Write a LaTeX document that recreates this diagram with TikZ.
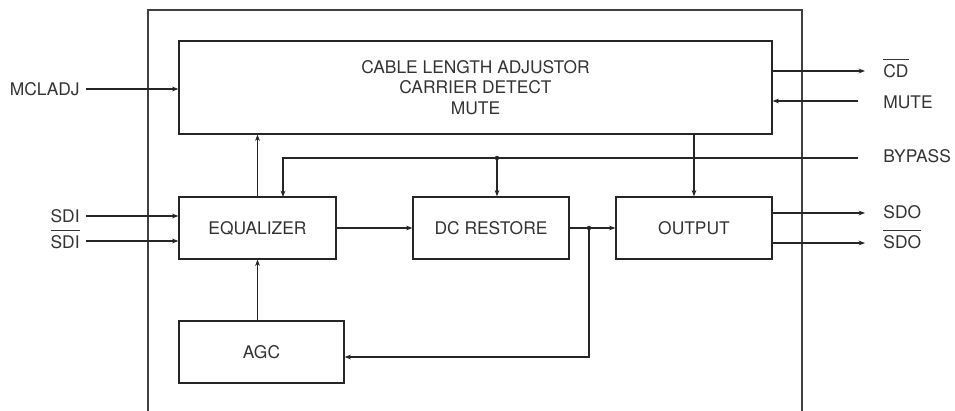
\documentclass[tikz,border=0pt]{standalone}
\usepackage{fontspec}
\setmainfont{TeX Gyre Heros}
\usetikzlibrary{arrows.meta}
\newcommand\negsig[1]{\leavevmode\vbox{\hrule height 0.5pt \kern 2.6pt \hbox{#1}}}
\tikzset{
  blk/.style={draw=black!85, line width=0.6pt, inner sep=0pt, align=center},
  sig/.style={draw=black!85, line width=0.6pt},
  arr/.style={sig, -{Stealth[length=3.2pt,width=2.4pt]}},
  lbl/.style={inner sep=0pt, text=black!80},
  dot/.style={circle, fill=black!85, inner sep=0pt, minimum size=2.2pt}
}
\begin{document}
\begin{tikzpicture}[x=0.5pt, y=-0.5pt, font=\fontsize{8.7pt}{10.3pt}\selectfont, text=black!80]
    \useasboundingbox (0,0) rectangle (955,411);
    \draw[black!75, line width=0.6pt] (148,411) -- (148,10) -- (802,10) -- (802,411);

    \node[blk, minimum width=296.5pt, minimum height=46.5pt] (cla) at (475.5,87.5)
      {CABLE LENGTH ADJUSTOR\\CARRIER DETECT\\MUTE};
    \node[blk, minimum width=78.5pt, minimum height=31pt] (eq) at (257.5,228) {EQUALIZER};
    \node[blk, minimum width=78pt, minimum height=31pt] (dcr) at (491,228) {DC RESTORE};
    \node[blk, minimum width=78pt, minimum height=31pt] (outp) at (694,228) {OUTPUT};
    \node[blk, minimum width=82.5pt, minimum height=31pt] (agc) at (261.5,352) {AGC};

    \coordinate (mclin) at (86,89);
    \coordinate (sdiin) at (86,216);
    \coordinate (sdibin) at (86,241);
    \coordinate (cdout) at (865,71);
    \coordinate (mutein) at (858,101);
    \coordinate (bypin) at (858,158);
    \coordinate (sdoout) at (865,213);
    \coordinate (sdobout) at (865,243);
    \coordinate (eqbp) at (283,197);

    \node[lbl, anchor=base east] (mcl) at (80,96) {MCLADJ};
    \node[lbl, anchor=base east] (sdi) at (80,223) {SDI};
    \node[lbl, anchor=base east] (sdib) at (80,249) {\negsig{SDI}};
    \node[lbl, anchor=base west] (cd) at (883,78) {\negsig{CD}};
    \node[lbl, anchor=base west] (mute) at (883,109) {MUTE};
    \node[lbl, anchor=base west] (byp) at (883,163) {BYPASS};
    \node[lbl, anchor=base west] (sdo) at (883,219) {SDO};
    \node[lbl, anchor=base west] (sdob) at (883,249) {\negsig{SDO}};

    \node[dot] (bpj) at (497,158) {};
    \node[dot] (fbj) at (589,228) {};

    \draw[arr] (mclin) -- (cla.west |- mclin);
    \draw[arr] (sdiin) -- (eq.west |- sdiin);
    \draw[arr] (sdibin) -- (eq.west |- sdibin);
    \draw[arr] (cla.east |- cdout) -- (cdout);
    \draw[arr] (mutein) -- (cla.east |- mutein);
    \draw[sig] (bypin) -- (bpj.center);
    \draw[arr] (bpj.center) -- (bpj |- dcr.north);
    \draw[arr] (bpj.center) -- (eqbp |- bpj) -- (eqbp);
    \draw[arr] (eq.north) -- (eq.north |- cla.south);
    \draw[arr] (cla.south -| outp.north) -- (outp.north);
    \draw[arr] (eq.east) -- (dcr.west);
    \draw[arr] (dcr.east) -- (outp.west);
    \draw[arr] (fbj.center) |- ([yshift=-2.5pt]agc.east);
    \draw[arr] (agc.north -| eq.south) -- (eq.south);
    \draw[arr] (outp.east |- sdoout) -- (sdoout);
    \draw[arr] (outp.east |- sdobout) -- (sdobout);
\end{tikzpicture}
\end{document}
